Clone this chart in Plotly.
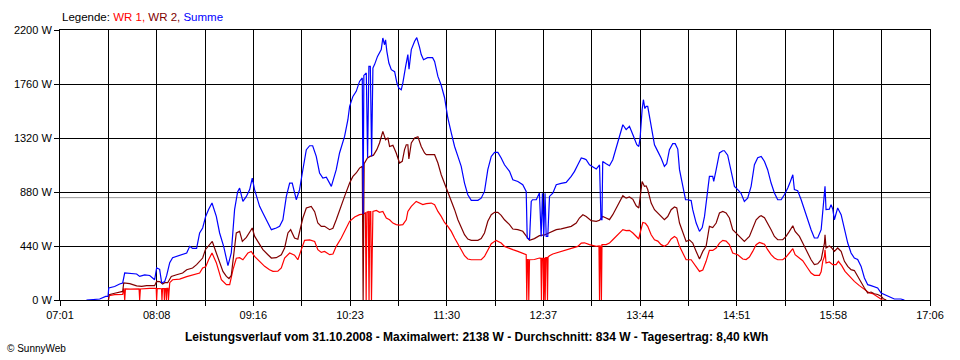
import numpy as np
import plotly.graph_objects as go

# ---------------- data (time in minutes since midnight, power in W) ----------------
x_labels = ["07:01", "08:08", "09:16", "10:23", "11:30", "12:37", "13:44", "14:51", "15:58", "17:06"]
x_start, x_end = 421, 1026          # 07:01 .. 17:06
y_ticks = [0, 440, 880, 1320, 1760, 2200]
y_labels = ["0 W", "440 W", "880 W", "1320 W", "1760 W", "2200 W"]
average_w = 834

summe = [(439.4,0),(448.6,8),(452.8,29),(454.4,29),(454.9,98),(459.0,110),(462.5,130),(464.6,139),(466.0,220),(469.5,215),(474.3,212),(476.4,192),(479.9,205),(483.4,200),(486.8,165),(488.2,261),(490.3,250),(491.7,139),(493.8,150),(495.2,200),(497.3,304),(499.3,345),(502.1,355),(505.6,370),(509.1,383),(511.2,437),(513.2,420),(516.0,420),(518.1,546),(520.2,587),(522.3,681),(524.4,740),(526.7,790),(529.7,681),(532.0,546),(534.8,437),(537.8,280),(540.1,383),(542.4,736),(544.5,880),(545.9,912),(548.2,803),(550.6,844),(552.9,900),(554.7,994),(556.3,900),(559.8,763),(562.1,709),(565.6,627),(568.0,573),(571.4,587),(573.7,600),(576.0,654),(578.4,844),(580.7,953),(582.5,953),(585.3,817),(587.6,899),(589.5,1035),(592.3,1225),(594.6,1257),(596.7,1257),(599.2,1170),(601.5,1035),(603.8,994),(606.2,1000),(609.7,926),(613.1,1062),(615.4,1198),(618.9,1333),(621.2,1469),(622.4,1578),(624.7,1659),(627.0,1700),(629.3,1781),(631.2,1809),(631.8,700),(632.3,1830),(634.0,1850),(634.9,1160),(635.8,1903),(636.8,1903),(637.7,1170),(638.6,1890),(639.8,1920),(641.8,1985),(644.4,2040),(645.5,2135),(646.7,2080),(647.4,2120),(648.3,2026),(649.7,1931),(651.4,1877),(653.7,1860),(655.3,1768),(656.6,1727),(658.3,1713),(659.4,1768),(661.3,1900),(662.9,2000),(663.7,1880),(665.3,2040),(667.6,2108),(669.1,2138),(671.0,2060),(672.2,2000),(673.8,1958),(676.6,1975),(680.1,1975),(681.5,1944),(683.8,1822),(686.1,1750),(688.4,1650),(690.7,1483),(693.1,1361),(695.4,1251),(697.7,1170),(700.0,1089),(702.3,953),(704.6,858),(707.0,812),(711.6,812),(713.9,830),(716.2,885),(718.5,1062),(720.9,1170),(723.2,1203),(725.5,1203),(727.8,1157),(730.1,1102),(733.6,1048),(735.9,980),(739.4,966),(742.8,939),(745.2,885),(745.9,505),(747.5,491),(748.7,803),(749.6,817),(752.2,817),(754.4,872),(755.6,518),(756.5,870),(757.4,518),(758.3,870),(759.1,518),(760.2,518),(761.4,844),(763.7,870),(766.1,939),(769.5,950),(773.0,958),(776.5,1007),(778.8,1048),(781.1,1102),(783.5,1157),(785.7,1150),(786.9,1143),(789.2,1102),(791.5,1084),(793.9,1067),(796.2,1100),(797.2,654),(797.9,654),(798.4,1129),(800.8,1110),(803.1,1094),(805.4,1143),(807.8,1238),(810.1,1333),(812.4,1428),(814.7,1388),(817.0,1415),(819.4,1347),(822.1,1265),(823.5,1251),(824.4,1320),(825.8,1551),(826.7,1632),(827.7,1560),(828.6,1578),(829.7,1578),(830.9,1496),(832.1,1388),(834.4,1265),(836.7,1211),(839.0,1157),(841.3,1089),(842.9,1110),(844.8,1225),(847.1,1274),(848.8,1274),(850.6,1230),(851.8,1062),(854.1,926),(856.0,817),(857.5,817),(859.9,810),(861.0,736),(863.4,627),(865.7,559),(867.6,590),(869.2,681),(870.7,831),(872.6,1007),(874.9,1007),(875.6,966),(877.3,1062),(879.6,1198),(881.9,1216),(883.0,1216),(885.3,1180),(886.5,1116),(888.8,1007),(890.0,926),(892.3,899),(894.6,870),(896.9,803),(899.2,830),(901.6,926),(903.9,1102),(906.2,1160),(908.6,1170),(910.9,1129),(913.1,1062),(915.5,953),(917.8,872),(920.1,817),(922.5,817),(924.7,858),(927.1,912),(928.9,966),(930.6,1021),(931.7,899),(934.0,890),(936.4,817),(938.6,736),(941.0,654),(943.3,573),(945.6,505),(947.9,505),(950.3,573),(951.4,709),(952.6,817),(953.0,926),(953.7,736),(956.0,740),(957.2,777),(958.4,740),(959.5,654),(961.8,750),(964.2,695),(966.5,573),(968.8,464),(971.1,383),(973.4,342),(975.7,330),(978.1,274),(980.4,179),(982.7,125),(985.0,117),(987.3,110),(989.6,98),(992.0,57),(994.3,43),(996.6,29),(998.9,20),(1001.2,8),(1005.8,8),(1008.2,0)]

wr2 = [(454.7,0),(455.1,43),(459.0,55),(464.6,70),(465.3,139),(469.5,133),(474.3,115),(477.8,111),(481.3,117),(486.8,117),(488.2,152),(490.3,150),(492.4,130),(493.8,141),(495.9,141),(498.4,192),(502.1,206),(506.3,220),(509.1,247),(513.2,261),(516.0,288),(520.2,342),(522.1,410),(524.4,440),(526.9,477),(529.7,383),(532.0,301),(534.3,233),(536.7,192),(538.5,175),(540.1,200),(541.3,330),(542.4,410),(543.6,546),(545.9,559),(547.8,477),(550.6,510),(552.9,559),(554.7,587),(556.3,520),(559.8,451),(562.1,410),(565.6,369),(568.0,342),(571.4,345),(574.9,369),(577.2,424),(579.5,546),(581.4,573),(584.1,505),(586.4,495),(588.1,573),(589.9,668),(592.3,750),(595.7,763),(598.1,720),(600.3,627),(602.7,600),(605.0,600),(608.5,573),(610.8,585),(613.1,654),(615.4,736),(618.9,844),(622.4,953),(624.7,1007),(627.0,1035),(629.3,1075),(631.2,1089),(631.8,0),(632.5,1110),(633.6,1130),(634.8,1157),(636.6,1170),(639.0,1180),(641.3,1225),(643.2,1279),(645.5,1374),(647.4,1306),(649.0,1320),(650.2,1251),(652.5,1260),(654.8,1198),(657.1,1116),(659.0,1130),(660.6,1225),(661.8,1265),(662.9,1265),(663.6,1150),(665.3,1280),(667.6,1320),(669.9,1330),(672.2,1251),(674.5,1198),(675.7,1184),(681.5,1184),(683.8,1116),(686.1,1021),(688.4,953),(690.7,872),(693.1,817),(695.4,736),(697.7,654),(700.0,587),(702.3,532),(704.6,497),(707.0,486),(711.6,486),(713.9,500),(716.2,546),(718.5,641),(720.9,695),(723.2,714),(725.5,714),(727.8,690),(730.1,654),(733.6,614),(735.9,578),(739.4,573),(742.8,560),(745.2,518),(747.5,486),(750.9,500),(754.4,524),(757.9,530),(762.5,551),(766.1,573),(769.5,580),(773.0,587),(776.5,600),(780.0,627),(782.2,668),(784.6,695),(786.9,681),(790.4,646),(793.9,641),(796.2,650),(798.4,681),(800.8,668),(803.1,655),(805.4,695),(807.8,750),(810.1,803),(812.4,850),(814.7,830),(817.0,839),(819.4,820),(821.7,768),(823.5,750),(824.4,820),(825.8,966),(827.4,926),(828.6,930),(829.7,900),(832.1,790),(834.4,736),(836.7,710),(839.0,676),(841.3,654),(843.6,680),(846.0,736),(848.3,758),(849.9,750),(851.8,627),(854.1,546),(856.4,477),(858.7,490),(861.0,464),(863.4,396),(865.7,334),(868.0,396),(870.3,437),(872.6,600),(874.9,590),(877.3,627),(879.6,709),(881.9,722),(884.2,709),(886.5,668),(888.8,573),(891.2,545),(893.5,518),(896.9,477),(900.4,518),(902.7,587),(905.1,654),(907.4,680),(908.6,687),(910.9,670),(913.1,627),(915.5,573),(917.8,518),(920.1,491),(923.6,491),(925.9,518),(928.2,559),(930.6,605),(932.2,559),(935.2,518),(937.5,464),(940.9,383),(943.3,328),(945.6,288),(947.9,295),(950.3,328),(951.4,400),(952.6,464),(953.0,532),(953.7,424),(956.0,440),(957.2,430),(959.5,396),(961.8,424),(964.2,396),(966.5,315),(968.8,274),(971.1,247),(973.4,240),(975.7,192),(978.1,139),(980.4,98),(982.7,57),(985.0,65),(987.3,51),(989.6,45),(992.0,30),(993.5,10),(995.6,0)]

wr1 = [(454.7,0),(455.1,35),(459.0,43),(464.6,45),(465.3,90),(465.5,90),(466.0,0),(466.5,90),(470.0,88),(476.0,90),(476.4,0),(476.9,90),(483.4,95),(486.8,98),(487.9,95),(488.2,0),(488.6,95),(491.6,92),(491.9,0),(492.3,92),(493.3,92),(493.6,0),(494.0,92),(494.7,92),(495.0,0),(495.4,95),(496.1,95),(496.4,0),(496.8,110),(497.3,141),(499.3,165),(504.2,170),(509.1,190),(514.7,210),(518.1,220),(520.2,261),(522.3,270),(524.4,330),(526.7,383),(529.7,304),(533.2,165),(536.7,125),(539.0,125),(541.3,247),(543.6,340),(545.9,345),(548.2,328),(551.7,383),(554.0,396),(556.3,355),(559.8,315),(563.3,274),(566.7,247),(569.1,233),(572.5,235),(574.9,261),(577.2,342),(580.7,383),(584.1,365),(586.4,328),(588.8,410),(591.1,486),(594.6,490),(598.1,477),(600.3,410),(602.7,388),(605.0,395),(608.5,369),(610.8,375),(613.1,437),(616.6,505),(618.9,559),(622.4,641),(625.9,676),(629.3,695),(631.6,700),(633.4,710),(633.9,0),(634.4,715),(635.4,720),(635.9,0),(636.4,720),(637.1,720),(637.6,0),(638.6,722),(641.0,730),(643.2,715),(645.5,722),(647.9,668),(650.2,654),(652.5,627),(654.8,614),(657.1,610),(659.4,614),(661.8,654),(662.9,722),(665.3,763),(668.7,803),(671.0,790),(673.3,777),(675.7,785),(679.2,790),(681.5,777),(683.8,722),(686.1,681),(688.4,632),(690.7,600),(693.1,559),(695.4,505),(697.7,451),(700.0,410),(702.3,361),(704.6,334),(707.0,328),(713.9,328),(716.2,355),(718.5,410),(720.9,459),(724.3,486),(727.8,464),(730.1,437),(733.6,424),(735.9,410),(739.4,396),(742.8,377),(745.2,370),(745.6,0),(746.0,330),(746.6,330),(747.0,0),(747.5,328),(750.9,330),(754.4,342),(755.4,340),(755.8,0),(756.2,340),(757.0,340),(757.4,0),(757.8,340),(758.0,340),(758.4,0),(758.8,345),(759.6,345),(760.0,0),(760.4,350),(761.4,361),(763.7,375),(767.2,388),(770.6,395),(774.1,410),(777.6,424),(781.1,437),(783.5,464),(785.7,466),(789.2,451),(793.9,437),(795.8,440),(796.2,0),(796.6,440),(797.1,440),(797.5,0),(797.9,451),(800.8,451),(803.1,464),(805.4,491),(807.8,518),(810.1,546),(812.4,573),(814.7,565),(817.0,568),(819.4,546),(821.7,518),(823.5,497),(824.4,546),(826.3,632),(828.1,625),(829.7,600),(832.1,532),(834.4,491),(836.7,480),(839.0,451),(841.3,437),(843.6,455),(846.0,497),(848.3,518),(849.9,505),(851.8,437),(854.1,383),(856.4,328),(859.9,328),(862.2,288),(865.7,233),(868.0,245),(870.3,315),(872.6,404),(874.9,404),(877.3,424),(879.6,464),(881.9,486),(884.2,480),(886.5,451),(888.8,383),(892.3,369),(895.8,334),(898.1,330),(900.4,350),(902.7,396),(905.1,451),(907.4,469),(910.9,455),(913.1,410),(915.5,369),(917.8,342),(920.1,328),(923.6,328),(925.9,350),(928.2,383),(930.6,418),(932.2,369),(935.2,342),(937.5,320),(940.9,261),(943.3,220),(945.6,201),(949.1,201),(950.3,230),(951.4,315),(952.6,355),(953.0,410),(953.7,301),(956.0,310),(958.4,288),(960.7,288),(962.3,315),(964.6,280),(966.9,233),(970.0,192),(973.4,152),(976.9,117),(980.4,84),(983.8,57),(986.1,52),(988.5,35),(990.8,20),(992.9,0)]

title_text = ("Leistungsverlauf vom 31.10.2008 - Maximalwert: 2138 W - "
              "Durchschnitt: 834 W - Tagesertrag: 8,40 kWh")

# ---------------- figure ----------------
FONT = "Liberation Sans, Arial, sans-serif"
fig = go.Figure()

for name, pts, color in [("WR 1", wr1, "#FF0000"), ("WR 2", wr2, "#800000"), ("Summe", summe, "#0000FF")]:
    xs, ys = zip(*pts)
    fig.add_trace(go.Scatter(x=list(xs), y=list(ys), mode="lines", name=name,
                             line=dict(color=color, width=1.2), hoverinfo="skip"))

step = (x_end - x_start) / (len(x_labels) - 1)
tickvals, ticktext = [], []
for i, lab in enumerate(x_labels):
    tickvals.append(x_start + i * step)
    ticktext.append(lab)
    if i < len(x_labels) - 1:
        tickvals.append(x_start + (i + 0.5) * step)
        ticktext.append("")

axis_common = dict(showgrid=True, gridcolor="black", gridwidth=1, showline=True,
                   linecolor="black", linewidth=1, mirror=True, zeroline=False,
                   ticks="outside", ticklen=5, tickcolor="black", tickwidth=1,
                   tickfont=dict(family=FONT, size=11, color="black"))

fig.update_layout(
    width=960, height=360,
    margin=dict(l=60, r=30, t=30, b=60),
    paper_bgcolor="white", plot_bgcolor="white",
    showlegend=False,
    hovermode=False,
    xaxis=dict(range=[x_start, x_end], tickmode="array", tickvals=tickvals,
               ticktext=ticktext, **axis_common),
    yaxis=dict(range=[0, 2200], tickmode="array", tickvals=y_ticks,
               ticktext=y_labels, **axis_common),
    font=dict(family=FONT, size=11, color="black"),
)

fig.add_shape(type="line", xref="paper", x0=0, x1=1, yref="y", y0=average_w, y1=average_w,
              line=dict(color="#999999", width=1), layer="between")

fig.add_annotation(xref="paper", yref="paper", x=0, y=1.048, xanchor="left", yanchor="middle",
                   showarrow=False, font=dict(family=FONT, size=11.5),
                   text="Legende: <span style='color:#FF0000'>WR 1, </span>"
                        "<span style='color:#800000'>WR 2, </span>"
                        "<span style='color:#0000FF'>Summe</span>")
fig.add_annotation(xref="paper", yref="paper", x=0.479, y=-0.137, xanchor="center", yanchor="middle",
                   showarrow=False, font=dict(family=FONT, size=12, color="black"),
                   text="<b>" + title_text + "</b>")
fig.add_annotation(xref="paper", yref="paper", x=-0.0632, y=-0.178, xanchor="left", yanchor="middle",
                   showarrow=False, font=dict(family=FONT, size=10, color="black"),
                   text="© SunnyWeb")

fig.write_html("out.html", config={"displayModeBar": False, "staticPlot": True},
               post_script="document.body.style.margin='0';")
